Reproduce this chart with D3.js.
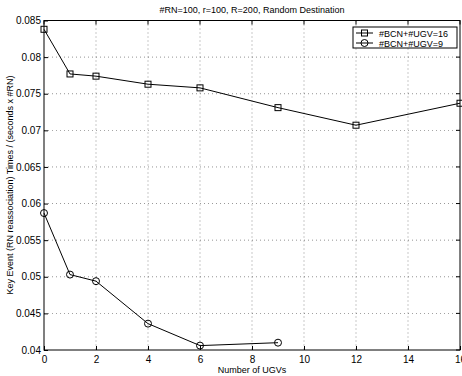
<!DOCTYPE html>
<html><head><meta charset="utf-8">
<script src="https://cdn.jsdelivr.net/npm/d3@7/dist/d3.min.js"></script>
<style>body{margin:0;background:#fff}svg{display:block}text{font-family:"Liberation Sans",Arial,sans-serif}</style>
</head><body><svg id="c" width="462" height="376"></svg>
<script>
const xValsA = [0,1,2,4,6,9,12,16];
const seriesA = [0.0838,0.0777,0.0774,0.0763,0.0758,0.0731,0.0707,0.0737];
const xValsB = [0,1,2,4,6,9];
const seriesB = [0.0587,0.0503,0.0494,0.0436,0.0406,0.0410];
const xTicks = [0,2,4,6,8,10,12,14,16];
const yTicks = [0.04,0.045,0.05,0.055,0.06,0.065,0.07,0.075,0.08,0.085];
const names = ["#BCN+#UGV=16","#BCN+#UGV=9"];

const svg = d3.select("#c");
const L=44, R=460, T=20.5, B=350;
const x = d3.scaleLinear().domain([0,16]).range([L,R]);
const y = d3.scaleLinear().domain([0.04,0.085]).range([B,T]);

// grid
const g = svg.append("g");
xTicks.slice(1,-1).forEach(t=>g.append("line").attr("x1",x(t)).attr("x2",x(t)).attr("y1",T).attr("y2",B)
  .attr("stroke","#000").attr("stroke-width",0.6).attr("stroke-dasharray","1,3").attr("opacity",0.7));
yTicks.slice(1,-1).forEach(t=>g.append("line").attr("x1",L).attr("x2",R).attr("y1",y(t)).attr("y2",y(t))
  .attr("stroke","#000").attr("stroke-width",0.6).attr("stroke-dasharray","1,3").attr("opacity",0.7));

// frame
svg.append("rect").attr("x",L).attr("y",T).attr("width",R-L).attr("height",B-T)
  .attr("fill","none").attr("stroke","#000").attr("stroke-width",1);

// axes
const xa = svg.append("g").attr("transform",`translate(0,${B})`)
  .call(d3.axisBottom(x).tickValues(xTicks).tickSize(-4).tickPadding(6).tickFormat(d3.format("d")));
const ya = svg.append("g").attr("transform",`translate(${L},0)`)
  .call(d3.axisLeft(y).tickValues(yTicks).tickSize(-4).tickPadding(3).tickFormat(d=>String(+d.toFixed(3))));
[xa,ya].forEach(a=>{a.select(".domain").remove();a.selectAll("text").attr("font-size",10).attr("fill","#000").style("font-family","'Liberation Sans',Arial,sans-serif");a.selectAll("line").attr("stroke","#000");});
// right/top ticks
xTicks.forEach(t=>svg.append("line").attr("x1",x(t)).attr("x2",x(t)).attr("y1",T).attr("y2",T+4).attr("stroke","#000"));
yTicks.forEach(t=>svg.append("line").attr("x1",R).attr("x2",R-4).attr("y1",y(t)).attr("y2",y(t)).attr("stroke","#000"));

const line = d3.line().x(d=>x(d[0])).y(d=>y(d[1]));
const dA = xValsA.map((v,i)=>[v,seriesA[i]]);
const dB = xValsB.map((v,i)=>[v,seriesB[i]]);
svg.append("path").attr("d",line(dA)).attr("fill","none").attr("stroke","#000").attr("stroke-width",1);
svg.append("path").attr("d",line(dB)).attr("fill","none").attr("stroke","#000").attr("stroke-width",1);
svg.selectAll(".sq").data(dA).enter().append("rect").attr("x",d=>x(d[0])-3).attr("y",d=>y(d[1])-3)
  .attr("width",6).attr("height",6).attr("fill","none").attr("stroke","#000").attr("stroke-width",1);
svg.selectAll(".ci").data(dB).enter().append("circle").attr("cx",d=>x(d[0])).attr("cy",d=>y(d[1]))
  .attr("r",3.5).attr("fill","none").attr("stroke","#000").attr("stroke-width",1);

// legend
const lg = svg.append("g");
lg.append("rect").attr("x",353).attr("y",27).attr("width",104).attr("height",21).attr("fill","#fff").attr("stroke","#000");
[0,1].forEach(i=>{
  const yy = 33+i*10;
  lg.append("line").attr("x1",356).attr("x2",373).attr("y1",yy).attr("y2",yy).attr("stroke","#000");
  if(i===0) lg.append("rect").attr("x",361.5).attr("y",yy-3).attr("width",6).attr("height",6).attr("fill","none").attr("stroke","#000");
  else lg.append("circle").attr("cx",364.5).attr("cy",yy).attr("r",3.5).attr("fill","none").attr("stroke","#000");
  lg.append("text").attr("x",379).attr("y",yy+3.5).attr("font-size",9).text(names[i]);
});

svg.append("text").attr("x",252).attr("y",13).attr("text-anchor","middle").attr("font-size",9).text("#RN=100, r=100, R=200, Random Destination");
svg.append("text").attr("x",252).attr("y",373).attr("text-anchor","middle").attr("font-size",9).text("Number of UGVs");
svg.append("text").attr("transform","translate(13,185) rotate(-90)").attr("text-anchor","middle").attr("font-size",9)
  .text("Key Event (RN reassociation) Times / (seconds x #RN)");
</script></body></html>
